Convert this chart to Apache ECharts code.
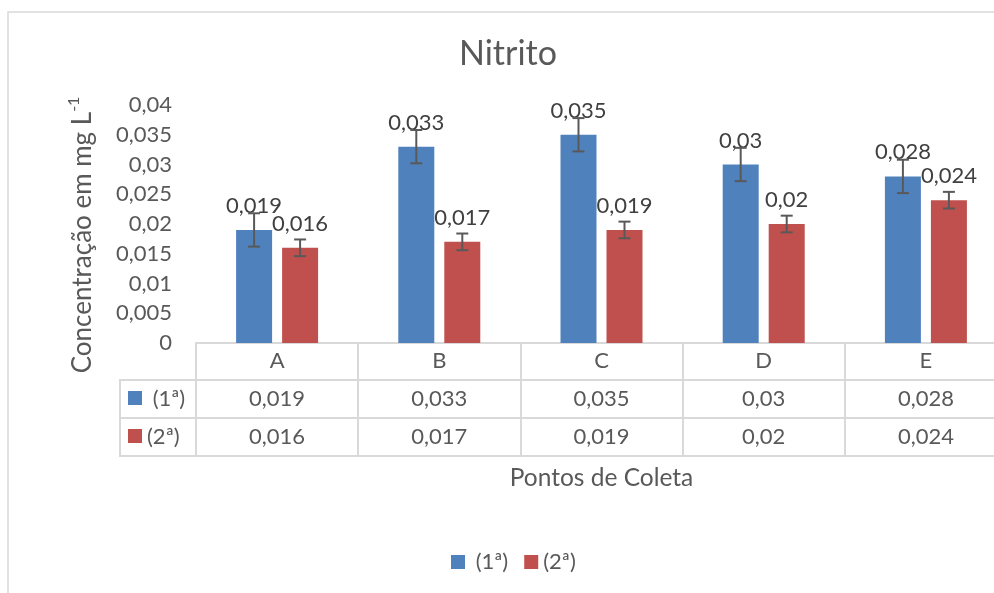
<!DOCTYPE html>
<html>
<head>
<meta charset="utf-8">
<script src="https://cdn.jsdelivr.net/npm/echarts@6/dist/echarts.min.js"></script>
<style>html,body{margin:0;padding:0;background:#fff;overflow:hidden}#c{width:1010px;height:593px}</style>
</head>
<body>
<div id="c"></div>
<script>
const title = 'Nitrito';
const categories = ['A', 'B', 'C', 'D', 'E'];
const seriesNames = [' (1ª)', '(2ª)'];
const serie1 = [0.019, 0.033, 0.035, 0.03, 0.028];
const serie2 = [0.016, 0.017, 0.019, 0.02, 0.024];
const erro1 = [0.0028, 0.0028, 0.0028, 0.0028, 0.0028];
const erro2 = [0.0014, 0.0014, 0.0014, 0.0014, 0.0014];
const yMin = 0, yMax = 0.04, yStep = 0.005;
const yName = 'Concentração em mg L';
const yNameSup = '-1';
const xName = 'Pontos de Coleta';

const FONT = 'Lato, "Open Sans", sans-serif';
const TXT = '#595959';
const LINE = '#d9d9d9';
const colors = ['#4f81bd', '#c0504d'];
const barW = 36, barGapPx = 10;
const FS = 22;
const fmt = v => String(v).replace('.', ',');

const chart = echarts.init(document.getElementById('c'));

function errorSeries(values, errs, sIdx) {
  const off = (sIdx === 0 ? -1 : 1) * (barW + barGapPx) / 2;
  return {
    type: 'custom',
    xAxisIndex: 0,
    z: 5,
    silent: true,
    data: values.map((v, i) => [i, v - errs[i], v + errs[i]]),
    encode: { x: 0, y: [1, 2] },
    renderItem: function (params, api) {
      const lo = api.coord([api.value(0), api.value(1)]);
      const hi = api.coord([api.value(0), api.value(2)]);
      const x = lo[0] + off;
      const cap = 6;
      const st = { stroke: '#595959', lineWidth: 2 };
      return {
        type: 'group',
        children: [
          { type: 'line', shape: { x1: x, y1: hi[1], x2: x, y2: lo[1] }, style: st },
          { type: 'line', shape: { x1: x - cap, y1: hi[1], x2: x + cap, y2: hi[1] }, style: st },
          { type: 'line', shape: { x1: x - cap, y1: lo[1], x2: x + cap, y2: lo[1] }, style: st }
        ]
      };
    }
  };
}

const gridLeft = 196, gridTop = 105, gridBottomY = 343;

const option = {
  animation: false,
  textStyle: { fontFamily: FONT },
  title: {
    text: title,
    left: 454,
    top: 32,
    textStyle: { fontFamily: FONT, fontSize: 34, fontWeight: 'normal', color: TXT }
  },
  legend: {
    data: seriesNames,
    left: 446,
    top: 546,
    icon: 'rect',
    itemWidth: 14,
    itemHeight: 14,
    itemGap: 16,
    textStyle: { fontFamily: FONT, fontSize: FS, color: TXT }
  },
  grid: { left: gridLeft, right: 3, top: gridTop, bottom: 593 - gridBottomY, containLabel: false },
  xAxis: [
    {
      type: 'category', data: categories, position: 'bottom',
      axisLine: { show: true, lineStyle: { color: LINE, width: 2 } },
      axisTick: { show: true, length: 113, interval: 0, lineStyle: { color: LINE, width: 2 } },
      axisLabel: { margin: 7, fontSize: FS, color: TXT, fontFamily: FONT },
      splitLine: { show: false }
    },
    {
      type: 'category', data: serie1.map(fmt), position: 'bottom', offset: 37,
      axisLine: { show: true, lineStyle: { color: LINE, width: 2 } },
      axisTick: { show: false },
      axisLabel: { margin: 8, fontSize: FS, color: TXT, fontFamily: FONT }
    },
    {
      type: 'category', data: serie2.map(fmt), position: 'bottom', offset: 75,
      axisLine: { show: true, lineStyle: { color: LINE, width: 2 } },
      axisTick: { show: false },
      axisLabel: { margin: 8, fontSize: FS, color: TXT, fontFamily: FONT }
    },
    {
      type: 'category', data: categories, position: 'bottom', offset: 113,
      axisLine: { show: true, lineStyle: { color: LINE, width: 2 } },
      axisTick: { show: false },
      axisLabel: { show: false },
      name: xName, nameLocation: 'middle', nameGap: 10,
      nameTextStyle: { fontSize: 24.5, color: TXT, fontFamily: FONT, verticalAlign: 'top' }
    }
  ],
  yAxis: {
    type: 'value', min: yMin, max: yMax, interval: yStep,
    axisLine: { show: false }, axisTick: { show: false },
    splitLine: { show: false },
    axisLabel: { margin: 24, fontSize: FS, color: TXT, fontFamily: FONT, formatter: v => fmt(+v.toFixed(3)) },
    name: yName + '{sup|' + yNameSup + '}',
    nameLocation: 'middle',
    nameGap: 96,
    nameTextStyle: {
      fontSize: 26, color: TXT, fontFamily: FONT, lineHeight: 34,
      padding: [0, 22, 0, 0],
      rich: { sup: { fontSize: 16, lineHeight: 16, verticalAlign: 'top', color: TXT, fontFamily: FONT } }
    }
  },
  series: [
    {
      name: seriesNames[0], type: 'bar', data: serie1, barWidth: barW,
      barGap: (barGapPx / barW * 100) + '%',
      itemStyle: { color: colors[0] },
      label: { show: true, position: 'top', distance: 13, fontSize: FS, color: '#404040', fontFamily: FONT, formatter: p => fmt(p.value) }
    },
    {
      name: seriesNames[1], type: 'bar', data: serie2, barWidth: barW,
      barGap: (barGapPx / barW * 100) + '%',
      itemStyle: { color: colors[1] },
      label: { show: true, position: 'top', distance: 13, fontSize: FS, color: '#404040', fontFamily: FONT, formatter: p => fmt(p.value) }
    },
    errorSeries(serie1, erro1, 0),
    errorSeries(serie2, erro2, 1)
  ],
  graphic: [
    { type: 'rect', z: -10, shape: { x: 8, y: 12, width: 1100, height: 700 }, style: { fill: 'none', stroke: LINE, lineWidth: 1.5 } },
    { type: 'line', shape: { x1: 120, y1: 380, x2: gridLeft, y2: 380 }, style: { stroke: LINE, lineWidth: 2 } },
    { type: 'line', shape: { x1: 120, y1: 418, x2: gridLeft, y2: 418 }, style: { stroke: LINE, lineWidth: 2 } },
    { type: 'line', shape: { x1: 120, y1: 456, x2: gridLeft, y2: 456 }, style: { stroke: LINE, lineWidth: 2 } },
    { type: 'line', shape: { x1: 120, y1: 379, x2: 120, y2: 457 }, style: { stroke: LINE, lineWidth: 2 } },
    { type: 'rect', shape: { x: 128, y: 391, width: 14, height: 14 }, style: { fill: colors[0] } },
    { type: 'rect', shape: { x: 128, y: 429, width: 14, height: 14 }, style: { fill: colors[1] } },
    { type: 'text', style: { text: seriesNames[0], x: 147, y: 399, verticalAlign: 'middle', fill: TXT, font: FS + 'px ' + FONT } },
    { type: 'text', style: { text: seriesNames[1], x: 147, y: 437, verticalAlign: 'middle', fill: TXT, font: FS + 'px ' + FONT } }
  ]
};
chart.setOption(option);
</script>
</body>
</html>
